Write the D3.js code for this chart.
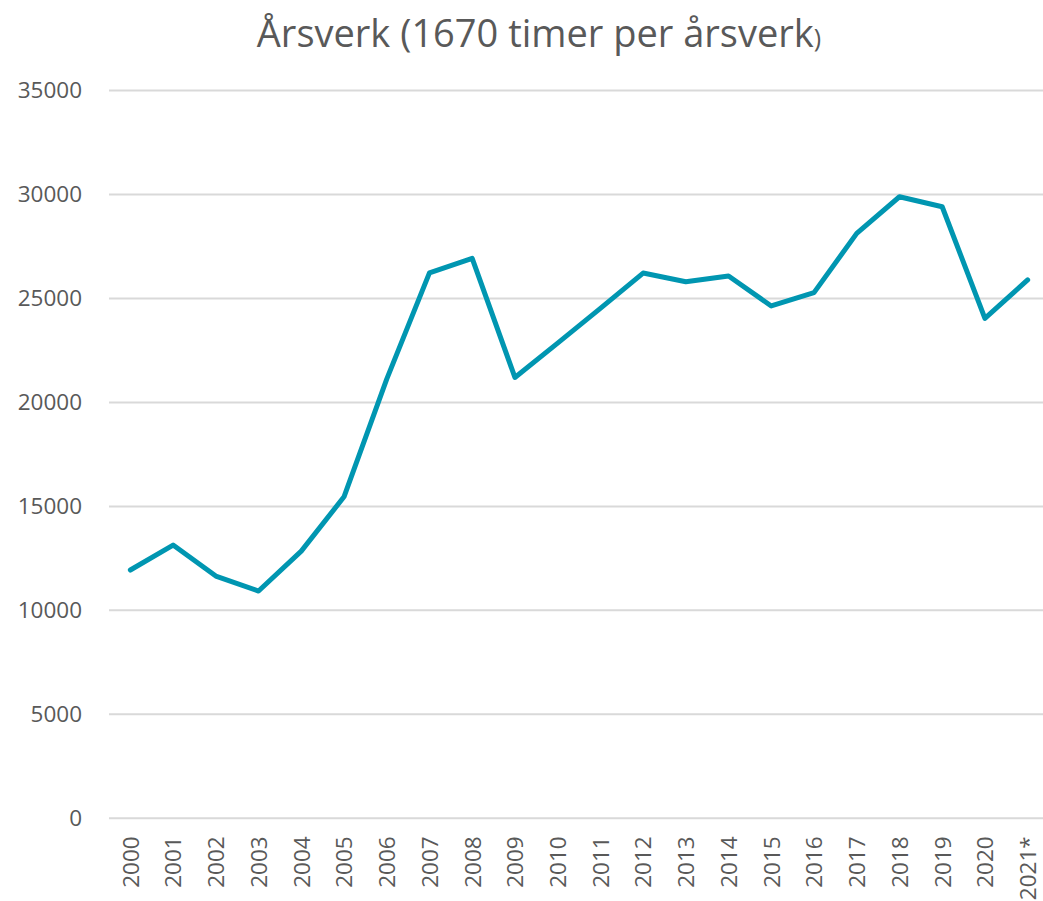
<!DOCTYPE html>
<html>
<head>
<meta charset="utf-8">
<script src="https://cdn.jsdelivr.net/npm/d3@7"></script>
<style>
  body { margin: 0; background: #fff; }
  text { font-family: "Open Sans", sans-serif; fill: #595959; }
</style>
</head>
<body>
<div id="chart"></div>
<script>
// data
const years = ["2000","2001","2002","2003","2004","2005","2006","2007","2008","2009","2010",
  "2011","2012","2013","2014","2015","2016","2017","2018","2019","2020","2021*"];
const aarsverk = [11940, 13140, 11650, 10930, 12850, 15460, 21120, 26230, 26930, 21200, 22850,
  24520, 26220, 25800, 26080, 24640, 25280, 28130, 29890, 29410, 24040, 25890];
const yTicks = [0, 5000, 10000, 15000, 20000, 25000, 30000, 35000];

function main(){
  var width = 1043,
    height = 901;

  var svg = d3.select("#chart").append("svg")
    .attr("width", width)
    .attr("height", height);

  var x = d3.scalePoint()
    .domain(years)
    .range([109, 1049])
    .padding(0.5);

  var y = d3.scaleLinear()
    .domain([0, 35000])
    .range([818.3, 90.5]);

  // title, closing paren is smaller in the original
  var title = svg.append("text")
    .attr("x", 539)
    .attr("y", 47)
    .attr("text-anchor", "middle")
    .style("font-size", "38px");
  title.append("tspan").text("Årsverk (1670 timer per årsverk");
  title.append("tspan").style("font-size", "25px").text(")");

  // gridlines
  svg.append("g")
    .selectAll("line")
    .data(yTicks)
    .join("line")
    .attr("x1", 109)
    .attr("x2", 1049)
    .attr("y1", d => y(d))
    .attr("y2", d => y(d))
    .attr("stroke", "#d9d9d9")
    .attr("stroke-width", 2);

  // y axis labels
  var yAxis = svg.append("g")
    .attr("transform", "translate(109,0)")
    .call(d3.axisLeft(y).tickValues(yTicks).tickSize(0).tickPadding(27).tickFormat(d3.format("d")));
  yAxis.select(".domain").remove();
  yAxis.selectAll("text")
    .style("font-size", "22.5px")
    .style("font-family", "'Open Sans', sans-serif")
    .attr("fill", "#595959");

  // x axis labels, rotated
  var xAxis = svg.append("g")
    .attr("transform", "translate(0,818.3)")
    .call(d3.axisBottom(x).tickSize(0));
  xAxis.select(".domain").remove();
  xAxis.selectAll("text")
    .attr("transform", "rotate(-90)")
    .attr("text-anchor", "end")
    .attr("x", -18)
    .attr("y", 0)
    .attr("dy", "0.35em")
    .style("font-size", "22.5px")
    .style("font-family", "'Open Sans', sans-serif")
    .attr("fill", "#595959");

  // the line
  var line = d3.line()
    .x((d, i) => x(years[i]))
    .y(d => y(d));

  svg.append("path")
    .datum(aarsverk)
    .attr("d", line)
    .attr("fill", "none")
    .attr("stroke", "#0096b1")
    .attr("stroke-width", 5)
    .attr("stroke-linejoin", "round")
    .attr("stroke-linecap", "round");
}

main();
</script>
</body>
</html>
